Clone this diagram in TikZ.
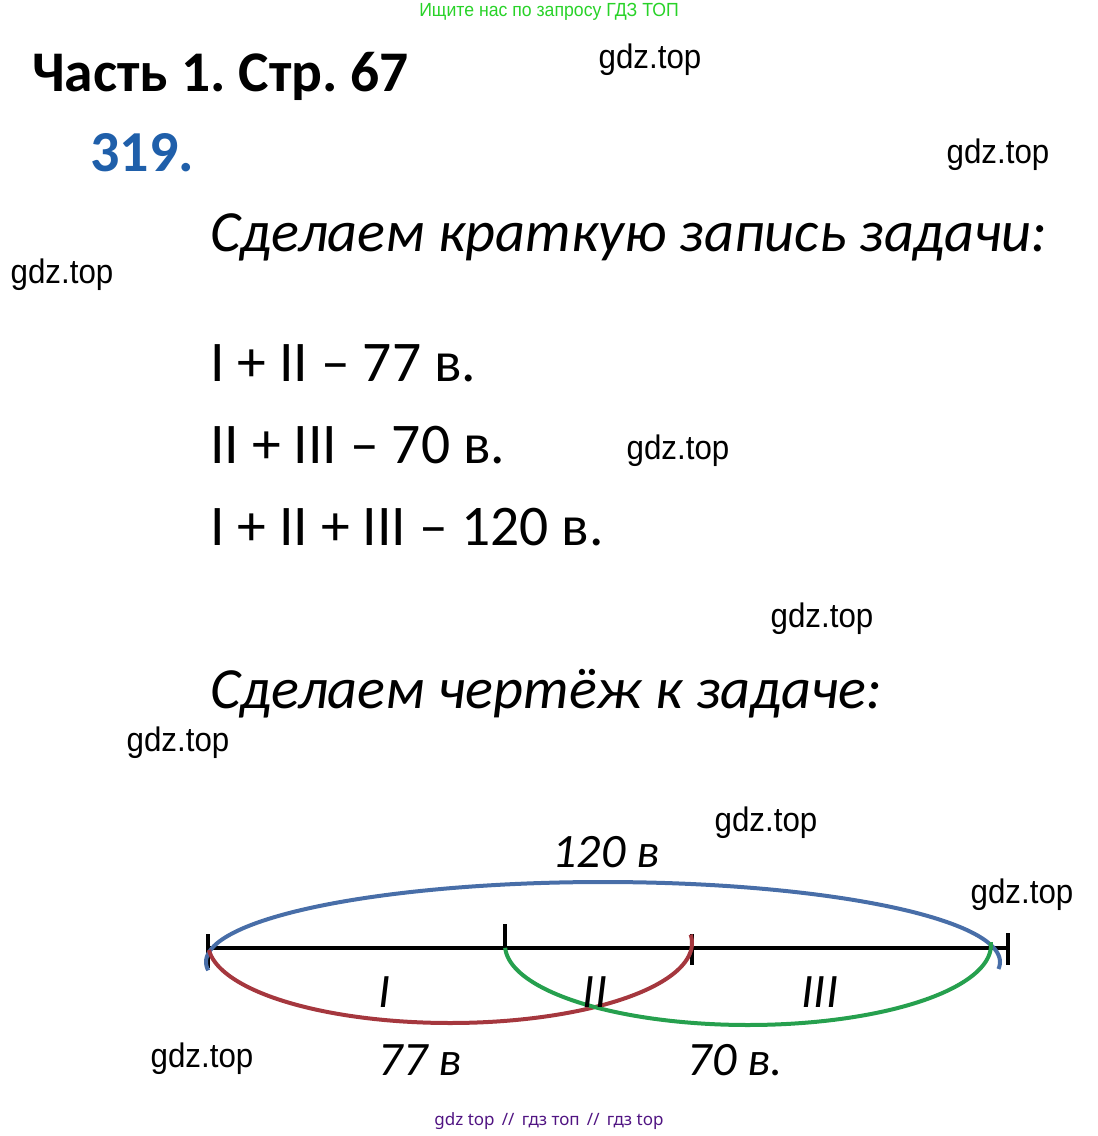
\documentclass[tikz,border=0pt]{standalone}
\usepackage{fontspec}
\setmainfont{Carlito}
\newfontfamily\wmfont[FakeStretch=0.92]{Liberation Sans}
\newfontfamily\topfont[FakeStretch=0.93]{Liberation Sans}
\newfontfamily\botfont{Noto Sans}
\definecolor{numblue}{RGB}{31,95,170}
\definecolor{arcblue}{RGB}{72,110,168}
\definecolor{arcred}{RGB}{165,55,62}
\definecolor{arcgreen}{RGB}{38,160,78}
\definecolor{topgreen}{RGB}{40,210,40}
\definecolor{botpurple}{RGB}{80,20,130}
\frenchspacing
\begin{document}
\begin{tikzpicture}[x=1pt,y=-1pt,
  wm/.style={font=\wmfont\fontsize{34}{34}\selectfont, inner sep=0pt},
  line/.style={anchor=base west, inner sep=0pt, font=\fontsize{57.5}{57.5}\selectfont},
  head/.style={anchor=base west, inner sep=0pt, font=\itshape\fontsize{58.3}{58.3}\selectfont},
  lbl/.style={inner sep=0pt, font=\itshape\fontsize{48}{48}\selectfont},
  seg/.style={line width=4pt},
  tick/.style={line width=3.2pt},
  arcline/.style={line width=4pt}]
\useasboundingbox (0,0) rectangle (1098,1136);
% watermark texts
\node[inner sep=0pt, text=topgreen, font=\topfont\fontsize{19}{19}\selectfont] (toptxt) at (549,12) {Ищите нас по запросу ГДЗ ТОП};
\node[inner sep=0pt, text=botpurple, font=\botfont\fontsize{17}{17}\selectfont] (bottxt) at (549,1121) {gdz top \,//\, гдз топ \,//\, гдз top};
\node[wm] (w1) at (650,60) {gdz.top};
\node[wm] (w2) at (998,155) {gdz.top};
\node[wm] (w3) at (62,275) {gdz.top};
\node[wm] (w4) at (678,451) {gdz.top};
\node[wm] (w5) at (822,619) {gdz.top};
\node[wm] (w6) at (178,743) {gdz.top};
\node[wm] (w7) at (766,823) {gdz.top};
\node[wm] (w8) at (1022,895) {gdz.top};
\node[wm] (w9) at (202,1059) {gdz.top};
% headings
\node[anchor=base west, inner sep=0pt, font=\bfseries\fontsize{57.5}{57.5}\selectfont] (title) at (32,91) {Часть 1. Стр. 67};
\node[anchor=base west, inner sep=0pt, text=numblue, font=\bfseries\fontsize{58}{58}\selectfont] (num) at (90,171) {319.};
\node[head] (h1) at (210,251) {Сделаем краткую запись задачи:};
\node[line] (l1) at (210,381) {I + II – 77 в.};
\node[line] (l2) at (210,463) {II + III – 70 в.};
\node[line] (l3) at (210,545) {I + II + III – 120 в.};
\node[head] (h2) at (210,708) {Сделаем чертёж к задаче:};
% diagram
\coordinate (A) at (208,948);
\coordinate (B) at (505,948);
\coordinate (C) at (692,948);
\coordinate (D) at (1008,948);
\draw[seg] (A) -- (D);
\draw[tick] ([yshift=14pt]A) -- ([yshift=-20pt]A);
\draw[tick] ([yshift=24pt]B) -- ([yshift=-2pt]B);
\draw[tick] ([yshift=14pt]C) -- ([yshift=-17pt]C);
\draw[tick] ([yshift=15pt]D) -- ([yshift=-17pt]D);
\draw[arcline, arcblue] plot[domain=-5:186, samples=120] ({603+397*cos(\x)},{962-80*sin(\x)});
\draw[arcline, arcred] plot[domain=185:366, samples=120] ({450+242*cos(\x)},{943-80*sin(\x)});
\draw[arcline, arcgreen] plot[domain=182:362, samples=120] ({748+243*cos(\x)},{945-80*sin(\x)});
\node[lbl] (t120) at (606,852) {120 в};
\node[lbl] (p1) at (385,992) {I};
\node[lbl] (p2) at (595,992) {II};
\node[lbl] (p3) at (820,992) {III};
\node[lbl] (t77) at (420,1060) {77 в};
\node[lbl] (t70) at (735,1060) {70 в.};
\end{tikzpicture}
\end{document}
